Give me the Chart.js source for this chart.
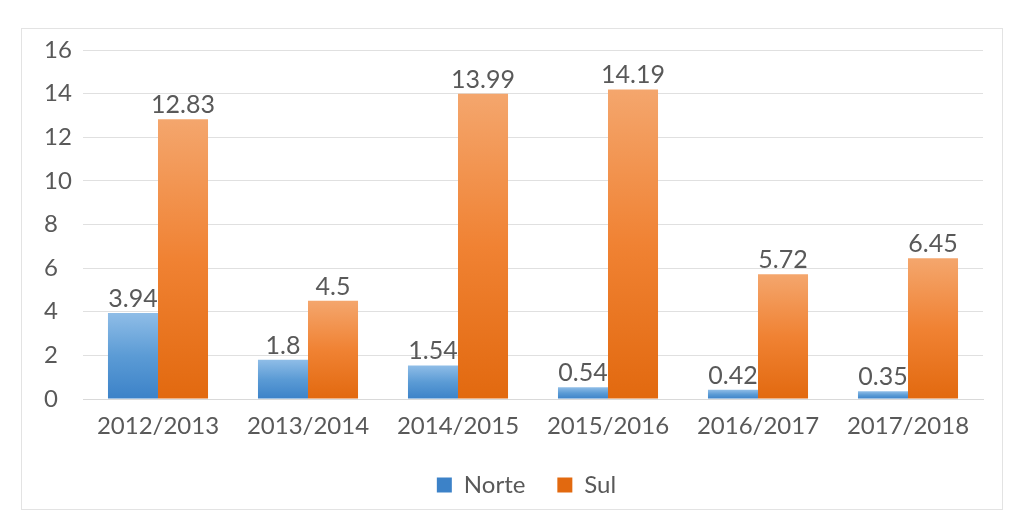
<!DOCTYPE html>
<html>
<head>
<meta charset="utf-8">
<script src="https://cdn.jsdelivr.net/npm/chart.js@4.4.0/dist/chart.umd.min.js"></script>
<style>
  html, body { margin: 0; padding: 0; background: #fff; }
  #caixa {
    position: absolute;
    left: 21px; top: 28px;
    width: 980px; height: 480px;
    border: 1px solid #e3e3e3;
  }
</style>
</head>
<body>
<div id="caixa"><canvas id="grafico" width="980" height="480"></canvas></div>
<script>
const safras = ['2012/2013', '2013/2014', '2014/2015', '2015/2016', '2016/2017', '2017/2018'];
const norte = [3.94, 1.8, 1.54, 0.54, 0.42, 0.35];
const sul = [12.83, 4.5, 13.99, 14.19, 5.72, 6.45];
const ticksY = [0, 2, 4, 6, 8, 10, 12, 14, 16];

const corTexto = '#595959';
const fonte = 'Lato, "Open Sans", sans-serif';

// gradiente por barra: claro em cima, escuro em baixo
function gradiente(cores) {
    return function (c) {
        const chart = c.chart;
        if (!chart.chartArea || c.type !== 'data') return cores[1];
        const y = chart.scales.y;
        const topo = y.getPixelForValue(c.raw);
        const base = y.getPixelForValue(0);
        if (!isFinite(topo) || topo === base) return cores[1];
        const g = chart.ctx.createLinearGradient(0, topo, 0, base);
        g.addColorStop(0, cores[0]);
        g.addColorStop(0.5, cores[1]);
        g.addColorStop(1, cores[2]);
        return g;
    };
}

// valores em cima das barras
const rotulos = {
    id: 'rotulos',
    afterDatasetsDraw(chart) {
        const ctx = chart.ctx;
        ctx.save();
        ctx.font = '25px ' + fonte;
        ctx.fillStyle = corTexto;
        ctx.textAlign = 'center';
        ctx.textBaseline = 'alphabetic';
        chart.data.datasets.forEach((ds, i) => {
            chart.getDatasetMeta(i).data.forEach((barra, j) => {
                ctx.fillText(String(ds.data[j]), barra.x, barra.y - 6);
            });
        });
        ctx.restore();
    }
};

// a legenda do original fica um pouco à direita do centro
const desviaLegenda = {
    id: 'desviaLegenda',
    afterLayout(chart) {
        if (!chart.legend) return;
        chart.legend.left += 13;
        chart.legend.right += 13;
    }
};

new Chart(document.getElementById('grafico'), {
    type: 'bar',
    data: {
        labels: safras,
        datasets: [{
            label: 'Norte',
            data: norte,
            backgroundColor: gradiente(['#8fbde7', '#5b9bd5', '#3c82c8']),
            borderWidth: 0
        }, {
            label: 'Sul',
            data: sul,
            backgroundColor: gradiente(['#f4a66d', '#f08233', '#e2690f']),
            borderWidth: 0
        }]
    },
    options: {
        responsive: false,
        animation: false,
        layout: { padding: { top: 21, right: 19, bottom: 2, left: 22 } },
        categoryPercentage: 0.667,
        barPercentage: 1,
        scales: {
            x: {
                grid: { display: false, drawTicks: false },
                border: { display: true, color: '#d9d9d9' },
                ticks: { color: corTexto, font: { family: fonte, size: 24 }, padding: 13 },
                afterFit(scale) { scale.height = 42; }
            },
            y: {
                min: 0,
                max: 16,
                afterBuildTicks(scale) {
                    scale.ticks = ticksY.map(v => ({ value: v }));
                },
                afterFit(scale) {
                    scale.width = 39;
                    scale.paddingTop = 0;
                    scale.paddingBottom = 0;
                },
                grid: { color: '#e0e0e0', drawTicks: false },
                border: { display: false },
                ticks: { color: corTexto, font: { family: fonte, size: 24 }, padding: 12, crossAlign: 'far' }
            }
        },
        plugins: {
            legend: {
                position: 'bottom',
                labels: {
                    color: corTexto,
                    font: { family: fonte, size: 24 },
                    boxWidth: 15,
                    boxHeight: 15,
                    padding: 32
                }
            },
            tooltip: { enabled: false }
        }
    },
    plugins: [rotulos, desviaLegenda]
});
</script>
</body>
</html>
